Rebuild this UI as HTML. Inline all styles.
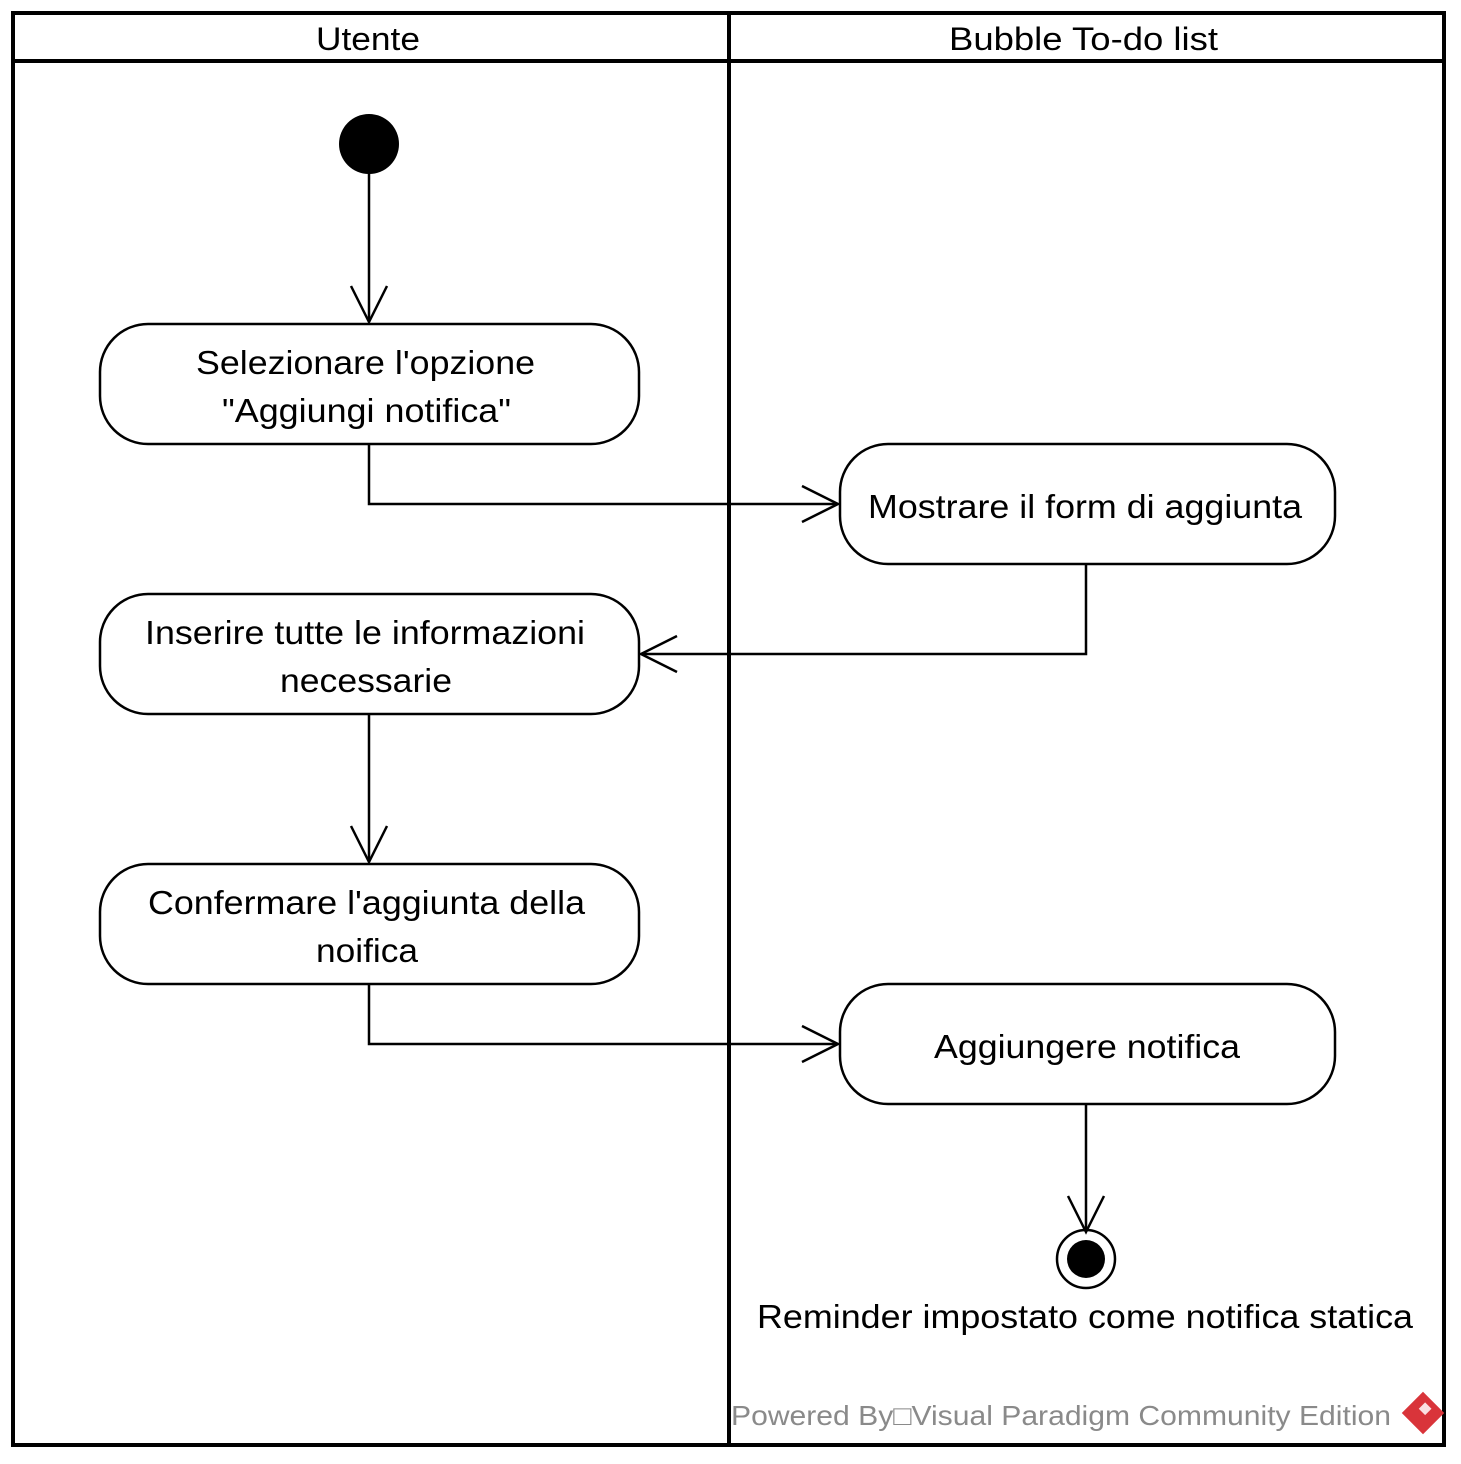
<!DOCTYPE html>
<html><head><meta charset="utf-8"><style>html,body{margin:0;padding:0;background:#fff}svg{display:block}</style></head>
<body>
<svg width="1461" height="1464" viewBox="0 0 1461 1464" xmlns="http://www.w3.org/2000/svg" font-family="Liberation Sans, Arial, sans-serif">
<rect width="1461" height="1464" fill="#fff"/>
<rect x="13" y="13" width="1431" height="1432" fill="none" stroke="#000" stroke-width="4"/>
<line x1="13" y1="61" x2="1444" y2="61" stroke="#000" stroke-width="4"/>
<line x1="729" y1="13" x2="729" y2="1445" stroke="#000" stroke-width="4"/>
<text x="316" y="50" font-size="32" textLength="104" lengthAdjust="spacingAndGlyphs">Utente</text>
<text x="949" y="50" font-size="32" textLength="269" lengthAdjust="spacingAndGlyphs">Bubble To-do list</text>
<g fill="none" stroke="#000" stroke-width="2.5">
<line x1="369" y1="144" x2="369" y2="322"/>
<polyline points="351,286 369,322 387,286"/>
<polyline points="369,444 369,504 838,504"/>
<polyline points="802,486 838,504 802,522"/>
<polyline points="1086,564 1086,654 641,654"/>
<polyline points="677,636 641,654 677,672"/>
<line x1="369" y1="714" x2="369" y2="862"/>
<polyline points="351,826 369,862 387,826"/>
<polyline points="369,984 369,1044 838,1044"/>
<polyline points="802,1026 838,1044 802,1062"/>
<line x1="1086" y1="1104" x2="1086" y2="1232"/>
<polyline points="1068,1196 1086,1232 1104,1196"/>
<rect x="100" y="324" width="539" height="120" rx="48"/>
<rect x="840" y="444" width="495" height="120" rx="48"/>
<rect x="100" y="594" width="539" height="120" rx="48"/>
<rect x="100" y="864" width="539" height="120" rx="48"/>
<rect x="840" y="984" width="495" height="120" rx="48"/>
<circle cx="1086" cy="1259" r="29"/>
</g>
<circle cx="369" cy="144" r="30" fill="#000"/>
<circle cx="1086" cy="1259" r="19" fill="#000"/>
<g font-size="33" fill="#000" lengthAdjust="spacingAndGlyphs">
<text x="196" y="374" textLength="339" lengthAdjust="spacingAndGlyphs">Selezionare l'opzione</text>
<text x="222" y="422" textLength="289" lengthAdjust="spacingAndGlyphs">"Aggiungi notifica"</text>
<text x="868" y="518" textLength="434" lengthAdjust="spacingAndGlyphs">Mostrare il form di aggiunta</text>
<text x="145" y="644" textLength="440" lengthAdjust="spacingAndGlyphs">Inserire tutte le informazioni</text>
<text x="280" y="692" textLength="172" lengthAdjust="spacingAndGlyphs">necessarie</text>
<text x="148" y="914" textLength="437" lengthAdjust="spacingAndGlyphs">Confermare l'aggiunta della</text>
<text x="316" y="962" textLength="102" lengthAdjust="spacingAndGlyphs">noifica</text>
<text x="934" y="1058" textLength="306" lengthAdjust="spacingAndGlyphs">Aggiungere notifica</text>
<text x="757" y="1328" textLength="656" lengthAdjust="spacingAndGlyphs">Reminder impostato come notifica statica</text>
</g>
<text x="731" y="1425" font-size="28" fill="#8a8a8a" textLength="660" lengthAdjust="spacingAndGlyphs">Powered By□Visual Paradigm Community Edition</text>
<g transform="translate(1423,1413) rotate(45)">
<rect x="-15" y="-15" width="30" height="30" fill="#d9343a"/>
<rect x="-6" y="-9" width="9" height="9" fill="#fff" opacity="0.85"/>
</g>
</svg>
</body></html>
